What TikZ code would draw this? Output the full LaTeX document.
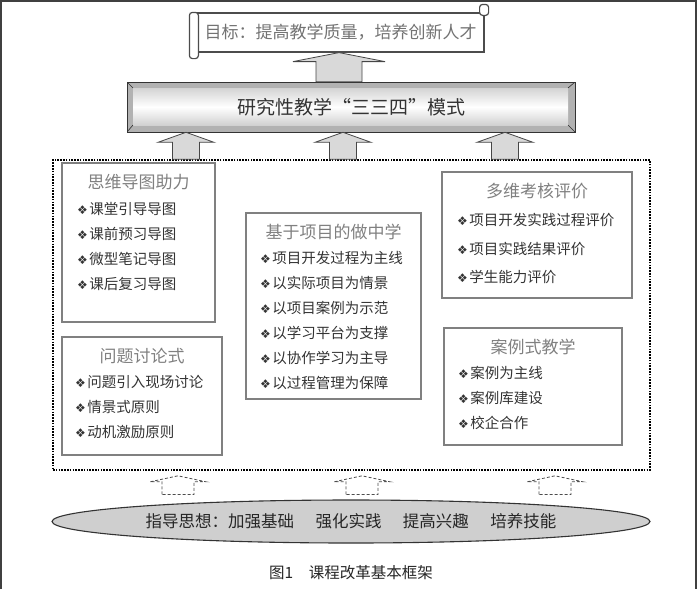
\documentclass[tikz,border=0pt]{standalone}
\usepackage{fontspec}
\newfontfamily\cjk{Noto Sans CJK SC}
\newfontfamily\dingfont{DejaVu Sans}
\usetikzlibrary{calc, positioning, shapes.geometric}

% up block arrow: style, x, bottom anchor, top anchor, half shaft, half head, head height
\newcommand{\blockup}[7]{%
  \draw[#1] let \p1=(#3), \p2=(#4) in
    (#2-#5,\y1) -- (#2-#5,\y2-#7) -- (#2-#6,\y2-#7) -- (#2,\y2)
    -- (#2+#6,\y2-#7) -- (#2+#5,\y2-#7) -- (#2+#5,\y1) -- cycle;}
\newcommand{\itemmark}{{\dingfont\fontsize{12}{12}\selectfont ❖}\hspace{1.5pt}}

\tikzset{
  panel/.style={draw=gray, line width=1.3pt, inner sep=0},
  boxtitle/.style={font=\cjk\fontsize{17}{19}\selectfont, text=black!50, inner sep=0},
  item/.style={font=\cjk\fontsize{14.5}{16}\selectfont, text=black!80, inner sep=0, anchor=west},
  uparrow/.style={fill=gray!30, draw=gray!55!black, line width=0.8pt},
  dasharrow/.style={draw=gray!60!black, dash pattern=on 3pt off 2pt, line width=0.8pt},
  rollline/.style={draw=gray!60!black, line width=1.2pt, fill=white, rounded corners=3pt},
  bar/.style={minimum width=448pt, minimum height=50pt, fill=gray!60, draw=gray!40!black,
    line width=0.6pt, font=\cjk\fontsize{19}{21}\selectfont, text=black!80,
    path picture={
      \shade[top color=gray!45, bottom color=gray!50, middle color=white]
        ([xshift=6pt,yshift=-6pt]path picture bounding box.north west) rectangle
        ([xshift=-7pt,yshift=7pt]path picture bounding box.south east);
      \draw[gray!35!black] (path picture bounding box.north west) -- ([xshift=6pt,yshift=-6pt]path picture bounding box.north west);
      \draw[gray!35!black] (path picture bounding box.south west) -- ([xshift=6pt,yshift=7pt]path picture bounding box.south west);
      \draw[gray!35!black] (path picture bounding box.north east) -- ([xshift=-7pt,yshift=-6pt]path picture bounding box.north east);
      \draw[gray!35!black] (path picture bounding box.south east) -- ([xshift=-7pt,yshift=7pt]path picture bounding box.south east);
    }},
}

\begin{document}
\begin{tikzpicture}[x=1pt, y=-1pt]
  \useasboundingbox (0,0) rectangle (700,589);

  % Outer frame
  \draw[line width=1.5pt, black!75] (1,589) -- (1,1) -- (696,1) -- (696,589);

  % Goal scroll
  \node[draw=gray!60!black, line width=1.2pt, fill=white, minimum width=287pt, minimum height=39pt,
    font=\cjk\fontsize{17}{19}\selectfont, text=black!55] (goal) at (340.5,32.5) {目标：提高教学质量，培养创新人才};
  \draw[rollline] ([xshift=-7pt]goal.north west) rectangle ([xshift=2pt,yshift=-6pt]goal.south west);
  \draw[rollline] ([xshift=-5pt,yshift=8pt]goal.north east) rectangle ([xshift=4pt,yshift=-3pt]goal.north east);

  % Model bar
  \node[bar] (mode) at (351,107) {研究性教学“三三四”模式};
  \blockup{uparrow}{339}{mode.north}{goal.south}{23}{46}{9}

  % Dotted frame
  \node[draw, line width=1.6pt, dash pattern=on 1.6pt off 1.2pt, minimum width=597pt, minimum height=310pt] (frame) at (351.5,315) {};
  \foreach \cx in {186,343,505} {
    \blockup{uparrow}{\cx}{frame.north}{mode.south}{13.5}{28}{10}
  }

  % Mind map box
  \node[panel, minimum width=153pt, minimum height=159pt] (mind) at (138.5,242.5) {};
  \node[boxtitle, below=12pt of mind.north] (mind-title) {思维导图助力};
  \foreach \t [count=\i] in {课堂引导导图, 课前预习导图, 微型笔记导图, 课后复习导图} {
    \node[item] (mind-\i) at (77, {209+25*(\i-1)}) {\itemmark\t};
  }

  % Discussion box
  \node[panel, minimum width=160pt, minimum height=118pt] (talk) at (142,396) {};
  \node[boxtitle, below=12pt of talk.north] (talk-title) {问题讨论式};
  \foreach \t [count=\i] in {问题引入现场讨论, 情景式原则, 动机激励原则} {
    \node[item] (talk-\i) at (75, {382+25*(\i-1)}) {\itemmark\t};
  }

  % Project box
  \node[panel, minimum width=175pt, minimum height=186pt] (proj) at (333.5,306) {};
  \node[boxtitle, below=12pt of proj.north] (proj-title) {基于项目的做中学};
  \foreach \t [count=\i] in {项目开发过程为主线, 以实际项目为情景, 以项目案例为示范,
      以学习平台为支撑, 以协作学习为主导, 以过程管理为保障} {
    \node[item] (proj-\i) at (260, {258+25*(\i-1)}) {\itemmark\t};
  }

  % Evaluation box
  \node[panel, minimum width=190pt, minimum height=126pt] (eval) at (537,235) {};
  \node[boxtitle, below=12pt of eval.north] (eval-title) {多维考核评价};
  \foreach \t [count=\i] in {项目开发实践过程评价, 项目实践结果评价, 学生能力评价} {
    \node[item] (eval-\i) at (457, {220+28.5*(\i-1)}) {\itemmark\t};
  }

  % Case box
  \node[panel, minimum width=178pt, minimum height=117pt] (cases) at (533,386.5) {};
  \node[boxtitle, below=12pt of cases.north] (cases-title) {案例式教学};
  \foreach \t [count=\i] in {案例为主线, 案例库建设, 校企合作} {
    \node[item] (cases-\i) at (458, {373+25*(\i-1)}) {\itemmark\t};
  }

  % Guiding idea
  \node[ellipse, draw=gray!40!black, line width=1.1pt, fill=gray!38, minimum width=598pt, minimum height=43pt, inner sep=2pt,
    font=\cjk\fontsize{16.5}{18}\selectfont, text=black!85] (guide) at (351,521.5)
    {指导思想：加强基础\hspace{1.3em}强化实践\hspace{1.3em}提高兴趣\hspace{1.3em}培养技能};
  \foreach \cx in {178,362,555} {
    \blockup{dasharrow}{\cx}{[yshift=5pt]guide.north}{[yshift=-5pt]frame.south}{16}{28}{6}
  }

  % Caption
  \node[font=\cjk\fontsize{15.5}{17}\selectfont, text=black!85] (caption) at (351,573) {图1\hspace{1em}课程改革基本框架};
\end{tikzpicture}
\end{document}
